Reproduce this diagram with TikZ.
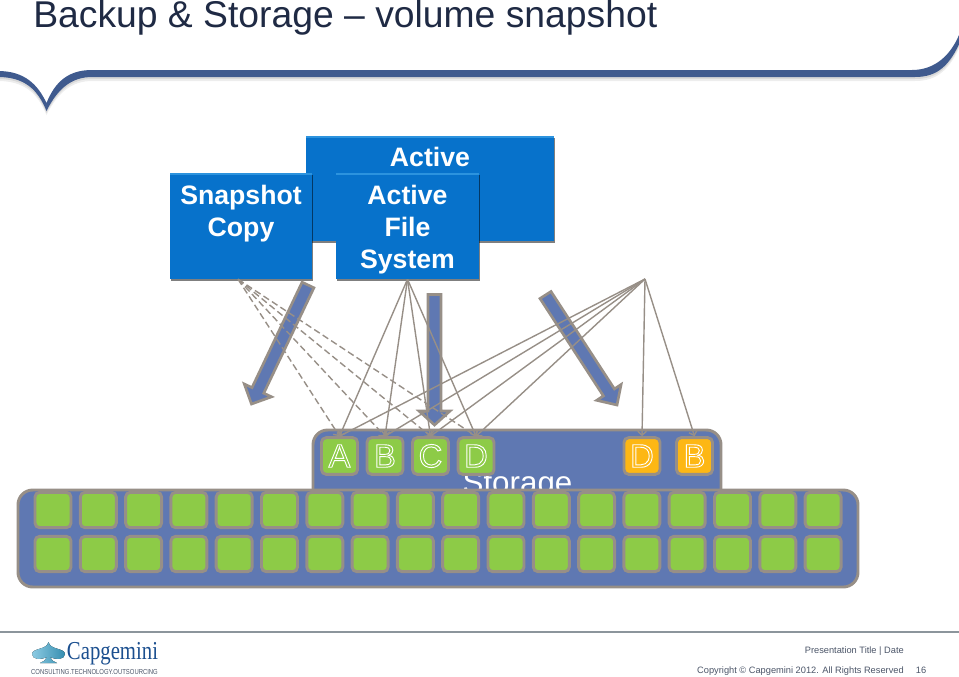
\documentclass[tikz,border=0pt]{standalone}
\usepackage{fontspec}
\usepackage{graphicx}
\setmainfont{Liberation Sans}
\newfontfamily\logofont{Liberation Serif}
\usetikzlibrary{arrows.meta,calc}
\definecolor{titlec}{HTML}{1F2A44}
\definecolor{swoosh}{HTML}{3F5A8E}
\definecolor{boxblue}{HTML}{0772CB}
\definecolor{boxtop}{HTML}{2C93DE}
\definecolor{panel}{HTML}{5F78B2}
\definecolor{edge}{HTML}{978F87}
\definecolor{cellgreen}{HTML}{8DCB47}
\definecolor{celly}{HTML}{FDB714}
\definecolor{footc}{HTML}{4B5568}
\definecolor{rulec}{HTML}{8C959C}
\definecolor{logoblue}{HTML}{1B4F8F}
\definecolor{logoteal}{HTML}{3FA7CF}
\newcommand{\outl}[1]{\special{pdf:code q 1 Tr 0.7 w 1 1 1 RG}#1\special{pdf:code Q}}
\tikzset{
  bigbox/.style={rectangle,fill=boxblue,inner sep=0pt,
    path picture={\fill[boxtop] (path picture bounding box.north west) rectangle ([yshift=-1.5pt]path picture bounding box.north east);}},
  bigshadow/.style={rectangle,fill=black,opacity=.5,inner sep=0pt},
  boxtext/.style={text=white,font=\fontsize{20}{24}\selectfont\bfseries,align=center,inner sep=0pt},
  blockarrow/.style={fill=panel,draw=edge,line width=2pt,line join=miter},
  cellbase/.style={rectangle,rounded corners=3.5pt,draw=edge,line width=2.2pt,inner sep=0pt,
    minimum width=27pt,minimum height=26.5pt},
  greencell/.style={cellbase,fill=cellgreen},
  lettercell/.style={cellbase,minimum height=27.5pt,text=white,font=\fontsize{24.5}{24.5}\selectfont},
  panelbox/.style={rectangle,rounded corners=11pt,fill=panel,draw=edge,line width=2.2pt,inner sep=0pt},
  link/.style={draw=edge,line width=1.05pt,-{Straight Barb[length=3pt,width=6.5pt]}},
  dashlink/.style={link,dash pattern=on 5pt off 2.6pt},
  foot/.style={text=footc,font=\fontsize{6.95}{8}\selectfont,inner sep=0pt,anchor=base east}
}
\begin{document}
\begin{tikzpicture}[x=.75pt,y=-.75pt]
\useasboundingbox (0,0) rectangle (959,676);
\clip (0,0) rectangle (959,676);
% header band
\def\band{(-2,71) .. controls (25,71) and (38,85) .. (46.5,103) .. controls (55,82) and (68,70) .. (92,70)
  -- (912,70) .. controls (935,70) and (952,55) .. (961,30) -- (961,40)
  .. controls (950,65) and (938,77) .. (915,77) -- (92,77)
  .. controls (72,77) and (58,88) .. (46.5,111) .. controls (38,90) and (25,77) .. (-2,77) -- cycle}
\fill[black,opacity=.07,yshift=-3pt] \band;
\fill[black,opacity=.09,yshift=-1.5pt] \band;
\fill[swoosh] \band;
\node[anchor=base west,inner sep=0pt,text=titlec,font=\fontsize{27.97}{30}\selectfont] (title) at (33,27.5) {Backup \& Storage -- volume snapshot};
% blue boxes
\node[bigshadow,minimum width=186pt,minimum height=78.75pt] (activeshadow) at (431,190) {};
\node[bigbox,minimum width=186pt,minimum height=78.75pt] (active) at (430,188.5) {};
\node[boxtext] (activelabel) at (430,157) {Active};
\node[bigshadow,minimum width=106.5pt,minimum height=79.5pt] (snapshadow) at (242,227.5) {};
\node[bigbox,minimum width=106.5pt,minimum height=79.5pt] (snap) at (241,226) {};
\node[boxtext] (snaplabel) at (241,214) {Snapshot\\Copy};
\node[bigshadow,minimum width=107.25pt,minimum height=79.5pt] (fsshadow) at (408.5,227.5) {};
\node[bigbox,minimum width=107.25pt,minimum height=79.5pt] (fs) at (407.5,226) {};
\node[boxtext] (fslabel) at (407.5,230) {Active\\File\\System};
\coordinate (hub) at (645,279);
\coordinate (snapout) at ([xshift=-2.2pt]snap.south);
% storage
\node[panelbox,minimum width=306pt,minimum height=67.5pt] (storage) at (517,475) {};
\node[anchor=base,inner sep=0pt,text=white,font=\fontsize{23.5}{23.5}\selectfont] (storagelabel) at (517.5,493) {Storage};
% block arrows
\draw[blockarrow] (313.9,287.8) -- (263.8,393.2) -- (271.5,396.8) -- (251.5,404) -- (244.3,384) -- (252,387.6) -- (302.1,282.2) -- cycle;
\draw[blockarrow] (428,294.5) -- (428,411) -- (419,411) -- (434.5,425) -- (450,411) -- (441,411) -- (441,294.5) -- cycle;
\draw[blockarrow] (551,291.5) -- (614.4,388.9) -- (621.1,384.5) -- (617,405) -- (596.7,400.3) -- (603.4,395.9) -- (540,298.5) -- cycle;
% lettered cells
\node[lettercell,fill=cellgreen] (A) at (339.5,456) {\outl{A}};
\node[lettercell,fill=cellgreen] (B) at (385,456) {\outl{B}};
\node[lettercell,fill=cellgreen] (C) at (430.5,456) {\outl{C}};
\node[lettercell,fill=cellgreen] (D) at (476,456) {\outl{D}};
\node[lettercell,fill=celly] (Dy) at (642,456) {\outl{D}};
\node[lettercell,fill=celly] (By) at (694.5,456) {\outl{B}};
% connectors
\foreach \t in {A,B,C,D}{
  \draw[dashlink] (snapout) -- (\t.north);
  \draw[link] (fs.south) -- (\t.north);
  \draw[link] (hub) -- (\t.north);
}
\draw[link] (hub) -- (Dy.north);
\draw[link] (hub) -- (By.north);
% disk shelf
\node[panelbox,minimum width=630pt,minimum height=72.75pt] (shelf) at (438,538.5) {};
\foreach \i in {0,...,17}{
  \pgfmathsetmacro{\cx}{53+45.3*\i}
  \node[greencell] (top\i) at (\cx,510) {};
  \node[greencell] (bot\i) at (\cx,554) {};
}
% footer
\draw[rulec,line width=1.3pt] (0,632) -- (959,632);
\fill[left color=logoteal!60!white,right color=logoteal!85!black]
  (48.5,642) .. controls (50,650) and (65,648) .. (65,654) .. controls (65,660) and (55,660) .. (50,657)
  .. controls (51,660) and (54,662) .. (57,663) -- (40,663) .. controls (43,662) and (46,660) .. (47,657)
  .. controls (42,660) and (32,660) .. (32,654) .. controls (32,648) and (47,650) .. (48.5,642) -- cycle;
\node[inner sep=0pt,text=logoblue] (logo) at (112.5,653.5) {\resizebox*{68.25pt}{17pt}{\logofont Capgemini}};
\node[inner sep=0pt,text=footc] (tagline) at (94.5,672) {\resizebox{95pt}{3.8pt}{\fontsize{6}{6}\selectfont CONSULTING.TECHNOLOGY.OUTSOURCING}};
\node[foot] (ptitle) at (904,653.5) {Presentation Title | Date};
\node[foot] (copy) at (904,673.5) {Copyright © Capgemini 2012. All Rights Reserved};
\node[foot] (page) at (926.5,673.5) {16};
\end{tikzpicture}
\end{document}
